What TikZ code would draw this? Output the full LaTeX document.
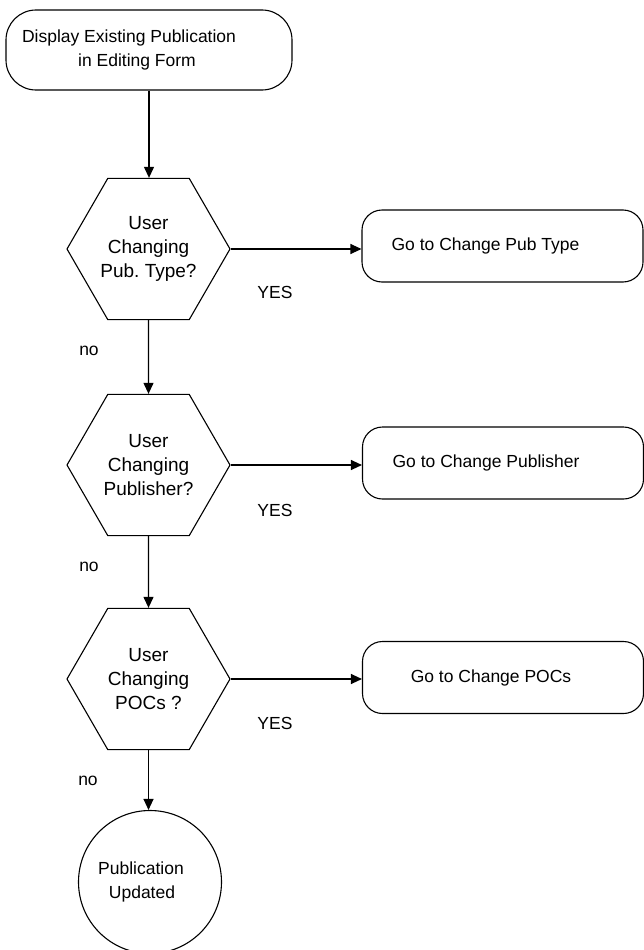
\documentclass[tikz,border=0pt]{standalone}
\usepackage{fontspec}
\setmainfont{Liberation Sans}
\usetikzlibrary{shapes.geometric,arrows.meta}
\newcommand{\rsp}[1]{\hspace*{#1pt}}
\frenchspacing
\begin{document}
\begin{tikzpicture}[x=1pt,y=-1pt,line width=1.1pt,
  every node/.style={font=\fontsize{17.5}{23.5}\selectfont},
  term/.style={draw, rounded corners=30pt, minimum width=286pt, minimum height=80pt, align=center, inner sep=0pt},
  gobox/.style={draw, rounded corners=20pt, minimum width=281pt, minimum height=72pt, inner sep=0pt},
  hexa/.style={draw, regular polygon, regular polygon sides=6, minimum size=163pt, inner sep=0pt, align=center, font=\fontsize{19}{24}\selectfont},
  endc/.style={draw, circle, minimum size=143pt, inner sep=0pt, align=center},
  lbl/.style={inner sep=0pt},
  arr/.style={-{Triangle[length=11pt,width=10pt]}}]
\useasboundingbox (0,0) rectangle (644,950);
\node[term] (start) at (149,50) {Display Existing Publication\rsp{40}\\in Editing Form\rsp{24}};
\node[hexa] (h1) at (148.5,249) {User\\Changing\\Pub. Type?};
\node[hexa] (h2) at (148.5,465) {User\\Changing\\Publisher?};
\node[hexa] (h3) at (148.5,679) {User\\Changing\\POCs ?};
\node[endc] (end) at (150,882) {Publication\rsp{18}\\Updated\rsp{16}};
\node[gobox] (g1) at (502.5,246) {Go to Change Pub Type\rsp{34}};
\node[gobox] (g2) at (503,463) {Go to Change Publisher\rsp{34}};
\node[gobox] (g3) at (503,677.5) {Go to Change POCs\rsp{24}};
\node[lbl] (n1) at (89,351) {no};
\node[lbl] (n2) at (89,567) {no};
\node[lbl] (n3) at (88,781) {no};
\node[lbl] (y1) at (275,292) {YES};
\node[lbl] (y2) at (275,510) {YES};
\node[lbl] (y3) at (275,723) {YES};
\draw[arr] (start.south) -- (start.south |- h1.north);
\draw[arr] (h1.south) -- (h2.north);
\draw[arr] (h2.south) -- (h3.north);
\draw[arr] (h3.south) -- (h3.south |- end.north);
\draw[arr] (h1.east) -- (h1.east -| g1.west);
\draw[arr] (h2.east) -- (h2.east -| g2.west);
\draw[arr] (h3.east) -- (h3.east -| g3.west);
\end{tikzpicture}
\end{document}
